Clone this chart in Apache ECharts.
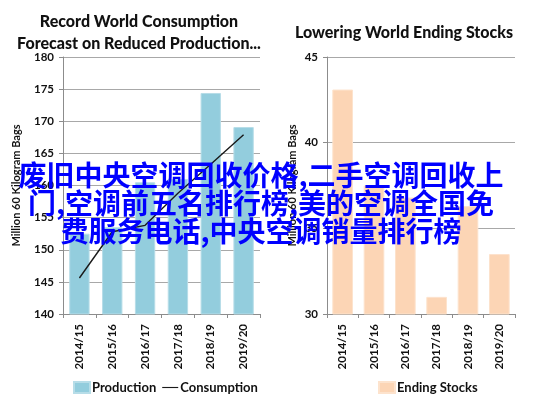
<!DOCTYPE html>
<html>
<head>
<meta charset="utf-8">
<script src="https://cdn.jsdelivr.net/npm/echarts@6/dist/echarts.min.js"></script>
<style>
  html, body { margin: 0; padding: 0; background: #fff; }
  #chart { width: 537px; height: 399px; }
</style>
</head>
<body>
<div id="chart"></div>
<script>
// marketing years, shared by both panels
const years = ["2014/15", "2015/16", "2016/17", "2017/18", "2018/19", "2019/20"];

// left panel, million 60kg bags
const production = [152.5, 153.5, 160.5, 161.0, 174.4, 169.1];
const consumption = [145.6, 152.8, 153.8, 158.8, 163.3, 167.9];

// right panel
const endingStocks = [43.1, 37.5, 36.8, 31.0, 36.3, 33.5];

const overlayLines = [
  "废旧中央空调回收价格,二手空调回收上",
  "门,空调前五名排行榜,美的空调全国免",
  "费服务电话,中央空调销量排行榜",
];

const FONT = "Lato, 'Open Sans', sans-serif";
const axisGrey = "#8c8c8c";
const ink = "#111";

const chart = echarts.init(document.getElementById("chart"));

function yAxisOf(gridIndex, min, max, nameGap) {
  return {
    gridIndex,
    type: "value",
    min,
    max,
    interval: 5,
    name: "Million 60 Kilogram Bags",
    nameLocation: "middle",
    nameGap,
    nameTextStyle: { fontFamily: FONT, fontWeight: "bold", fontSize: 11, color: ink },
    axisLine: { show: true, lineStyle: { color: axisGrey } },
    axisTick: { show: true, length: 4, lineStyle: { color: axisGrey } },
    axisLabel: { fontFamily: FONT, fontWeight: "bold", fontSize: 11.5, color: ink, margin: 9 },
    splitLine: { show: true, lineStyle: { color: "#a8a8a8" } },
  };
}

function xAxisOf(gridIndex) {
  return {
    gridIndex,
    type: "category",
    data: years,
    axisLine: { show: true, lineStyle: { color: axisGrey } },
    axisTick: { show: true, length: 4, lineStyle: { color: axisGrey } },
    axisLabel: { rotate: 90, fontFamily: FONT, fontWeight: "bold", fontSize: 11.5, color: ink, margin: 10 },
  };
}

const legendText = { fontFamily: FONT, fontWeight: "bold", fontSize: 13, color: ink, padding: [0, 0, 0, -3] };

chart.setOption({
  animation: false,
  title: [
    {
      text: "Record World Consumption\nForecast on Reduced Production...",
      left: 134,
      textAlign: "center",
      top: 6,
      textStyle: { fontFamily: FONT, fontWeight: 900, fontSize: 16, color: ink, lineHeight: 22 },
    },
    {
      text: "Lowering World Ending Stocks",
      left: 399,
      textAlign: "center",
      top: 20,
      textStyle: { fontFamily: FONT, fontWeight: 900, fontSize: 16, color: ink },
    },
  ],
  legend: [
    {
      left: 68,
      top: 376,
      itemGap: 6,
      itemWidth: 16,
      itemHeight: 11,
      textStyle: legendText,
      data: [
        { name: "Production", icon: "rect" },
        { name: "Consumption", icon: "path://M0,0H20V1.4H0Z" },
      ],
    },
    {
      left: 373,
      top: 376,
      itemWidth: 16,
      itemHeight: 11,
      textStyle: legendText,
      data: [{ name: "Ending Stocks", icon: "rect" }],
    },
  ],
  grid: [
    { left: 63, right: 277, top: 57, bottom: 85 },
    { left: 327, right: 22, top: 57, bottom: 85 },
  ],
  xAxis: [xAxisOf(0), xAxisOf(1)],
  yAxis: [yAxisOf(0, 140, 180, 41), yAxisOf(1, 30, 45, 29)],
  series: [
    {
      name: "Production",
      type: "bar",
      xAxisIndex: 0,
      yAxisIndex: 0,
      data: production,
      barCategoryGap: "38%",
      itemStyle: { color: "#93cddd", borderColor: "#b7dde8", borderWidth: 1 },
    },
    {
      name: "Consumption",
      type: "line",
      xAxisIndex: 0,
      yAxisIndex: 0,
      data: consumption,
      symbol: "none",
      lineStyle: { color: "#1a1a1a", width: 1.4 },
      itemStyle: { color: "#1a1a1a" },
    },
    {
      name: "Ending Stocks",
      type: "bar",
      xAxisIndex: 1,
      yAxisIndex: 1,
      data: endingStocks,
      barCategoryGap: "34%",
      itemStyle: { color: "#fcd5b5", borderColor: "#fde3cd", borderWidth: 1 },
    },
  ],
  graphic: [
    {
      type: "text",
      z: 100,
      x: 261,
      y: 161,
      style: {
        text: overlayLines.join("\n"),
        align: "center",
        verticalAlign: "top",
        fontFamily: "'Noto Sans CJK SC'",
        fontWeight: "bold",
        fontSize: 28,
        lineHeight: 28,
        fill: "#0000ff",
      },
    },
  ],
});
</script>
</body>
</html>
